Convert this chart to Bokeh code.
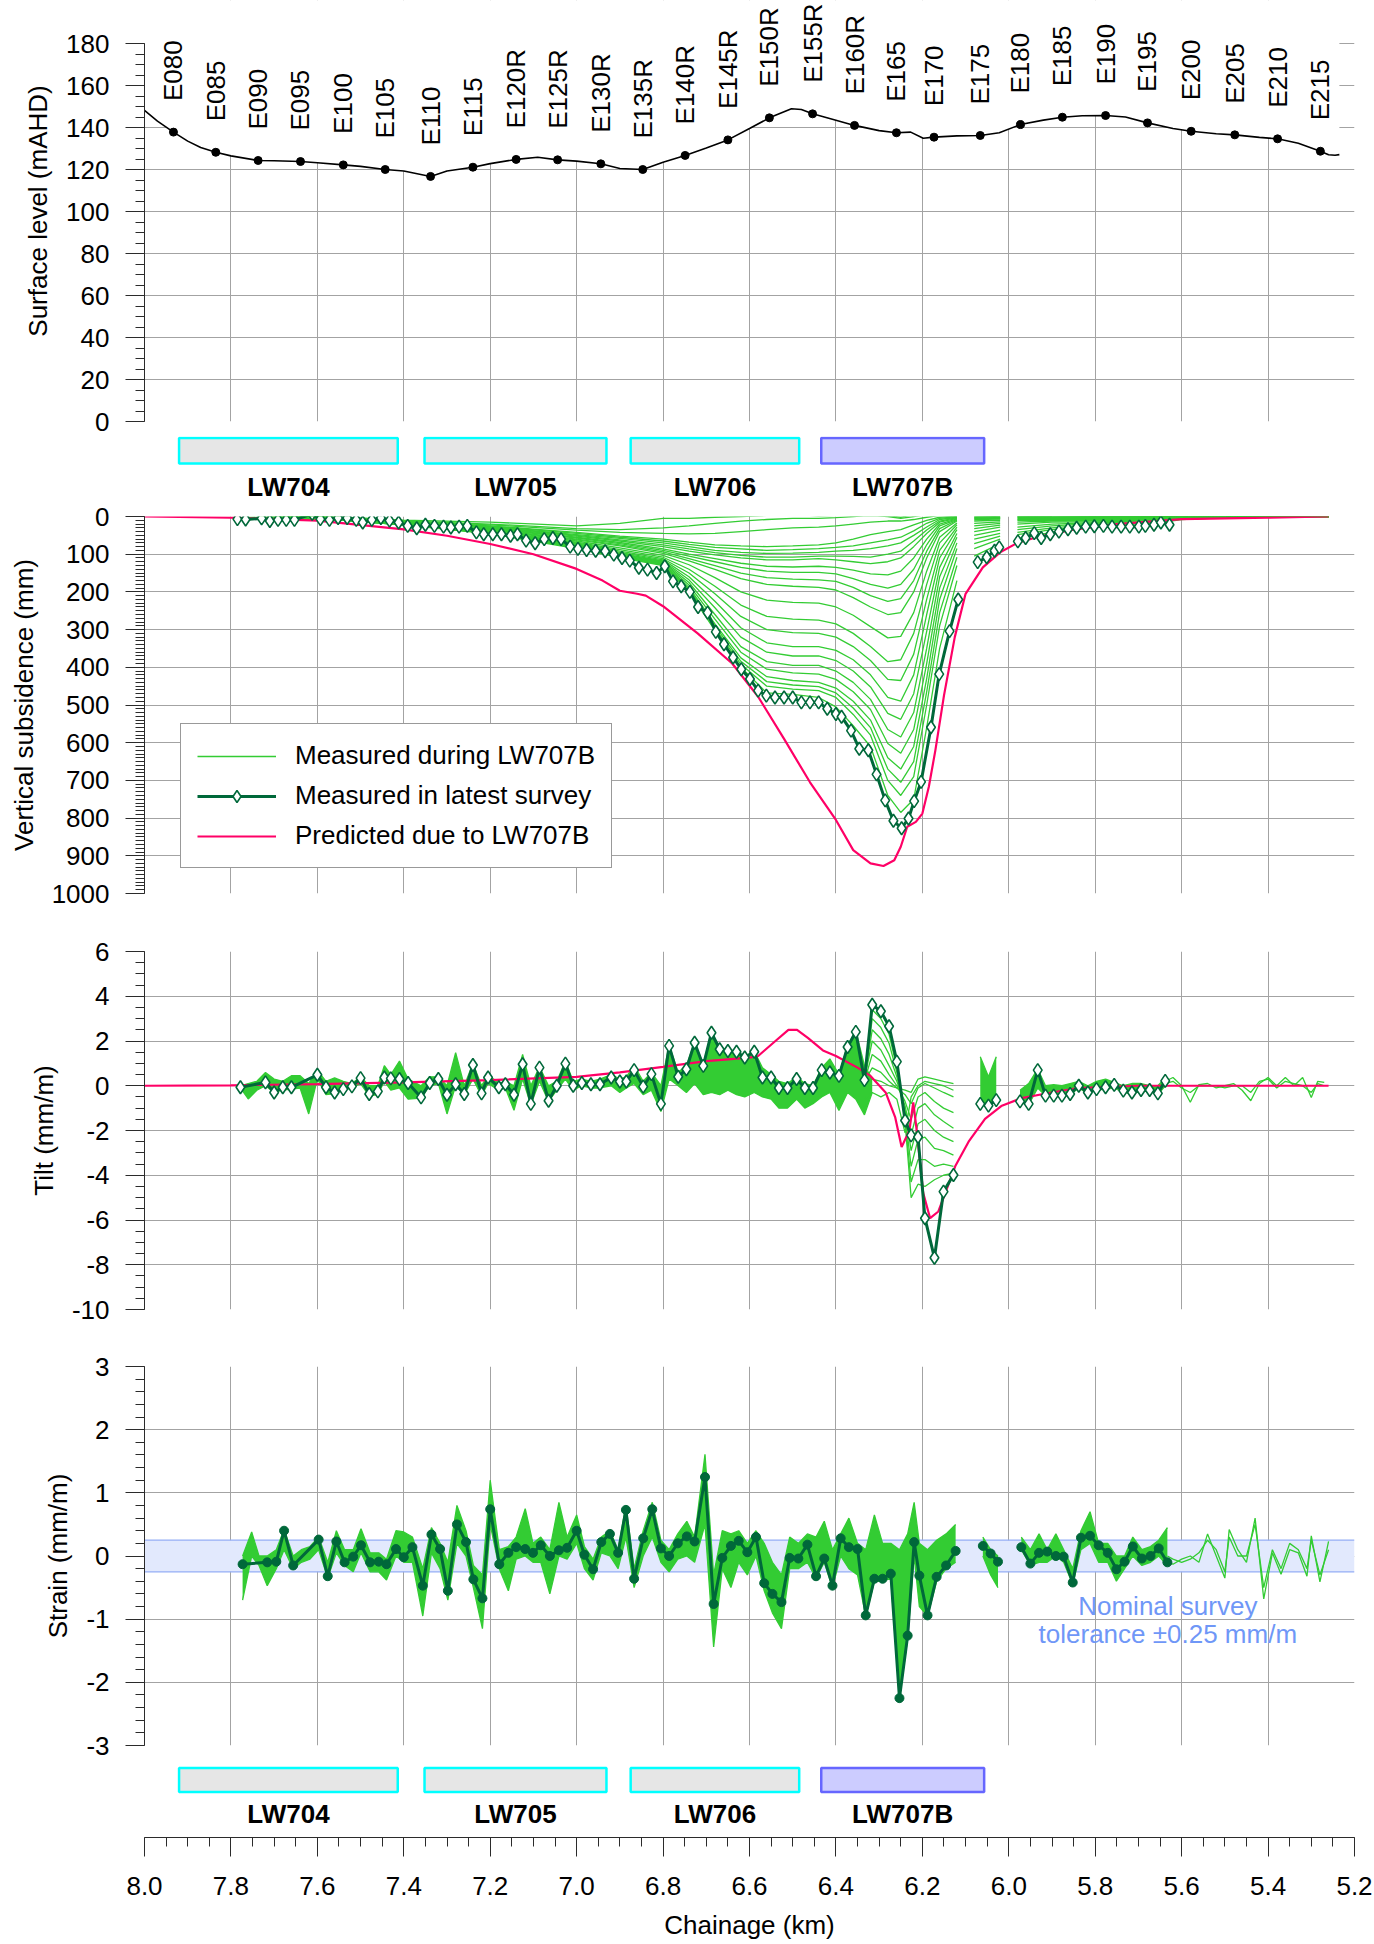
import math
from bokeh.plotting import figure
from bokeh.layouts import column
from bokeh.models import (Range1d, LinearAxis, SingleIntervalTicker, FixedTicker, Grid,
                          Legend, LegendItem, Label, LabelSet, ColumnDataSource,
                          PrintfTickFormatter)
from bokeh.embed import file_html
from bokeh.resources import INLINE
from bokeh.core.properties import value

N = float("nan")

# ---------------- axis ticks ----------------
X_TICKS = [8.0, 7.8, 7.6, 7.4, 7.2, 7.0, 6.8, 6.6, 6.4, 6.2, 6.0, 5.8, 5.6, 5.4, 5.2]

# ---------------- longwalls ----------------
LW_NAMES = ["LW704", "LW705", "LW706", "LW707B"]
LW_START = [7.920, 7.352, 6.875, 6.434]
LW_END = [7.414, 6.931, 6.485, 6.057]

# ---------------- surface level ----------------
SURF_LABELS = ["E080", "E085", "E090", "E095", "E100", "E105", "E110", "E115", "E120R", "E125R",
               "E130R", "E135R", "E140R", "E145R", "E150R", "E155R", "E160R", "E165", "E170", "E175",
               "E180", "E185", "E190", "E195", "E200", "E205", "E210", "E215"]
surf_dot_km = [7.933, 7.835, 7.737, 7.639, 7.540, 7.443, 7.338, 7.240, 7.140, 7.044,
               6.944, 6.847, 6.749, 6.650, 6.554, 6.454, 6.357, 6.260, 6.173, 6.066,
               5.973, 5.876, 5.776, 5.679, 5.578, 5.477, 5.378, 5.279]
surf_dot_val = [137.8, 128.2, 124.3, 123.8, 122.2, 120.0, 116.7, 121.1, 124.8, 124.6,
                122.7, 120.0, 126.7, 134.1, 144.6, 146.5, 141.0, 137.5, 135.4, 136.2,
                141.4, 144.9, 145.7, 142.2, 138.2, 136.5, 134.6, 128.7]
surf_line_km = [8.00, 7.97, 7.933, 7.90, 7.87, 7.835, 7.80, 7.737, 7.70, 7.639,
                7.60, 7.54, 7.50, 7.443, 7.40, 7.338, 7.30, 7.24, 7.20, 7.14,
                7.09, 7.044, 7.00, 6.944, 6.90, 6.847, 6.80, 6.749, 6.70, 6.65,
                6.60, 6.554, 6.52, 6.503, 6.48, 6.454, 6.40, 6.357, 6.30, 6.26,
                6.227, 6.198, 6.173, 6.12, 6.066, 6.022, 5.973, 5.92, 5.876, 5.83,
                5.776, 5.73, 5.679, 5.62, 5.578, 5.52, 5.477, 5.42, 5.378, 5.33,
                5.279, 5.26, 5.245, 5.235]
surf_line_val = [148.1, 143.0, 137.8, 133.5, 130.5, 128.2, 126.5, 124.3, 124.2, 123.8,
                 123.2, 122.2, 121.5, 120.0, 119.3, 116.7, 119.3, 121.1, 122.8, 124.8,
                 125.8, 124.6, 124.0, 122.7, 120.5, 120.0, 123.5, 126.7, 130.2, 134.1,
                 139.5, 144.6, 147.5, 148.9, 148.6, 146.5, 143.5, 141.0, 138.5, 137.5,
                 137.8, 134.9, 135.4, 136.0, 136.2, 137.5, 141.4, 143.5, 144.9, 145.6,
                 145.7, 145.0, 142.2, 139.5, 138.2, 137.0, 136.5, 135.3, 134.6, 132.5,
                 128.7, 127.0, 126.8, 127.1]

# ---------------- vertical subsidence (mm) ----------------
subs_km = [7.785, 7.766, 7.729, 7.710, 7.691, 7.672, 7.653, 7.612, 7.593, 7.572,
           7.552, 7.531, 7.510, 7.495, 7.474, 7.453, 7.433, 7.412, 7.391, 7.370,
           7.350, 7.329, 7.308, 7.291, 7.272, 7.253, 7.232, 7.215, 7.194, 7.174,
           7.153, 7.137, 7.117, 7.096, 7.075, 7.055, 7.036, 7.015, 6.997, 6.977,
           6.956, 6.934, 6.914, 6.895, 6.877, 6.856, 6.836, 6.815, 6.796, 6.777,
           6.758, 6.738, 6.719, 6.697, 6.678, 6.659, 6.638, 6.619, 6.599, 6.580,
           6.561, 6.541, 6.520, 6.500, 6.480, 6.460, 6.440, 6.420, 6.400, 6.387,
           6.365, 6.346, 6.325, 6.306, 6.286, 6.267, 6.248, 6.232, 6.219, 6.203,
           6.180, 6.161, 6.137, 6.117, 6.095, 6.072, 6.051, 6.033, 6.022, 6.000,
           5.979, 5.961, 5.941, 5.925, 5.904, 5.884, 5.863, 5.843, 5.822, 5.802,
           5.781, 5.761, 5.740, 5.720, 5.699, 5.684, 5.664, 5.648, 5.628]
subs_latest = [7, 8, 5, 12, 9, 9, 9, -7, 7, 9,
               4, 4, 9, 16, 9, 4, 11, 16, 25, 31,
               22, 25, 27, 29, 27, 25, 42, 47, 47, 47,
               51, 47, 64, 71, 60, 57, 60, 80, 86, 89,
               91, 92, 101, 110, 117, 136, 141, 150, 132, 172,
               185, 200, 240, 255, 306, 339, 374, 405, 431, 462,
               475, 480, 480, 480, 493, 493, 493, 510, 524, 531,
               568, 616, 620, 684, 753, 807, 827, 801, 755, 704,
               559, 418, 304, 220, N, 121, 108, 91, 82, N,
               66, 57, 44, 57, 47, 40, 34, 30, 27, 26,
               25, 27, 27, 27, 27, 25, 22, 16, 22]

subs_pred_km = [8.0, 7.8, 7.6, 7.4, 7.3, 7.2, 7.1, 7.0, 6.94, 6.9,
                6.86, 6.84, 6.8, 6.72, 6.64, 6.58, 6.52, 6.46, 6.40, 6.36,
                6.32, 6.29, 6.265, 6.25, 6.235, 6.215, 6.20, 6.185, 6.17, 6.15,
                6.125, 6.10, 6.06, 6.02, 5.98, 5.93, 5.85, 5.75, 5.6, 5.4, 5.26]
subs_pred = [0, 3, 11, 34, 51, 73, 100, 139, 170, 197,
             205, 210, 238, 310, 390, 478, 590, 705, 805, 885,
             920, 927, 912, 876, 823, 810, 788, 717, 621, 475,
             320, 205, 135, 95, 70, 53, 35, 20, 7, 3, 0]

# surveys measured during LW707B (earliest -> latest)
subs_survey_km = [7.78, 7.60, 7.40, 7.20, 7.00, 6.90, 6.80, 6.74, 6.68, 6.62,
                  6.56, 6.50, 6.44, 6.40, 6.36, 6.32, 6.28, 6.25, 6.22, 6.19,
                  6.16, 6.12, 6.10, 6.08, 6.02, 6.00, 5.98, 5.90, 5.80, 5.70,
                  5.60, 5.50, 5.40, 5.30, 5.26]
subs_s01 = [3, -2, 10, 15, 25, 18, 5, 5, 2, 0, -3, -5, -2, -3, -5, -5, -3, 2, -5, -8,
            -10, -8, N, -20, -15, N, -18, -10, -8, -6, -4, -6, -10, -5, -2]
subs_s02 = [4, 0, 12, 20, 32, 35, 30, 25, 18, 12, 8, 5, 5, 3, 0, -3, 0, 5, 0, -5,
            -8, -5, N, -12, -8, N, -12, -8, -5, -4, -2, -4, -6, -3, -1]
subs_s03 = [4, 1, 13, 22, 36, 42, 45, 46, 45, 40, 35, 30, 28, 25, 20, 15, 12, 12, 8, 2,
            -3, -4, N, -10, -7, N, -10, -6, -4, -3, -1, -3, -4, -2, 0]
subs_s04 = [5, 2, 14, 25, 42, 52, 60, 68, 75, 78, 80, 78, 75, 70, 60, 48, 40, 35, 22, 10,
            2, -2, N, -8, -5, N, -8, -5, -3, -2, 0, -2, -3, -1, 0]
subs_s05 = [5, 2, 14, 26, 45, 55, 65, 74, 82, 86, 90, 88, 85, 82, 78, 70, 62, 55, 38, 18,
            5, 0, N, -6, -4, N, -7, -4, -2, -1, 0, -1, -2, 0, 0]
subs_s06 = [5, 3, 15, 27, 48, 58, 70, 80, 90, 95, 98, 97, 95, 92, 90, 85, 78, 70, 50, 28,
            8, 2, N, -5, -3, N, -6, -4, -2, -1, 0, -1, -2, 0, 0]
subs_s07 = [5, 3, 15, 28, 50, 62, 75, 86, 96, 103, 108, 108, 105, 105, 106, 108, 100, 92, 65, 36,
            12, 3, N, -4, -2, N, -5, -3, -1, 0, 0, 0, -1, 0, 0]
subs_s08 = [5, 3, 16, 30, 52, 65, 80, 92, 102, 110, 115, 115, 112, 115, 120, 125, 120, 110, 80, 45,
            15, 5, N, -3, 0, N, -5, -2, 0, 0, 1, 0, -2, 0, 0]
subs_s09 = [5, 3, 16, 31, 55, 69, 86, 100, 112, 124, 132, 134, 132, 135, 142, 152, 155, 145, 110, 60,
            20, 6, N, -2, 1, N, -3, -1, 0, 0, 1, 0, -1, 0, 0]
subs_s10 = [6, 4, 17, 32, 57, 72, 90, 105, 120, 135, 145, 148, 148, 152, 165, 180, 190, 180, 140, 75,
            25, 8, N, 0, 3, N, -2, 0, 1, 1, 1, 0, -1, 0, 0]
subs_s11 = [6, 4, 18, 34, 60, 75, 94, 112, 130, 150, 162, 166, 168, 172, 188, 210, 225, 218, 170, 92,
            32, 10, N, 3, 4, N, -1, 1, 2, 2, 1, 0, 0, 0, 0]
subs_s12 = [6, 4, 18, 35, 62, 78, 98, 118, 140, 165, 180, 185, 188, 195, 215, 240, 260, 255, 200, 110,
            40, 12, N, 5, 5, N, 0, 2, 3, 3, 2, 1, 0, 1, 0]
subs_s13 = [6, 4, 18, 36, 65, 83, 103, 128, 162, 200, 222, 228, 230, 240, 262, 292, 322, 318, 255, 145,
            55, 17, N, 8, 7, N, 2, 4, 4, 4, 2, 1, 0, 1, 0]
subs_s14 = [6, 4, 19, 38, 68, 88, 108, 140, 185, 235, 265, 272, 275, 285, 310, 345, 385, 380, 310, 180,
            70, 22, N, 12, 10, N, 5, 6, 6, 5, 3, 1, 0, 1, 0]
subs_s15 = [6, 4, 19, 39, 70, 92, 112, 150, 205, 265, 300, 308, 310, 320, 345, 382, 432, 435, 365, 220,
            90, 28, N, 18, 14, N, 8, 8, 8, 6, 3, 1, 0, 1, 0]
subs_s16 = [7, 5, 20, 40, 72, 95, 115, 160, 225, 295, 335, 345, 345, 355, 380, 420, 480, 490, 420, 260,
            110, 35, N, 25, 18, N, 10, 10, 10, 8, 4, 2, 0, 1, 0]
subs_s17 = [7, 5, 20, 41, 74, 98, 118, 168, 242, 320, 360, 370, 370, 382, 410, 452, 522, 538, 470, 305,
            135, 45, N, 32, 23, N, 15, 12, 12, 10, 4, 2, 0, 1, 0]
subs_s18 = [7, 5, 21, 42, 76, 100, 120, 175, 260, 345, 385, 395, 395, 410, 440, 485, 565, 585, 520, 350,
            160, 55, N, 40, 28, N, 20, 15, 14, 12, 5, 2, 1, 1, 0]
subs_s19 = [7, 5, 21, 43, 78, 102, 122, 182, 272, 360, 405, 415, 418, 432, 465, 512, 602, 628, 565, 390,
            190, 70, N, 50, 36, N, 28, 20, 16, 14, 5, 2, 1, 1, 0]
subs_s20 = [7, 5, 22, 44, 80, 104, 124, 188, 285, 375, 425, 435, 440, 455, 490, 540, 640, 670, 610, 430,
            220, 85, N, 60, 45, N, 35, 25, 18, 16, 6, 3, 1, 1, 0]
subs_s21 = [7, 5, 22, 44, 82, 106, 126, 192, 290, 384, 438, 447, 451, 468, 508, 560, 670, 705, 650, 465,
            255, 108, N, 72, 52, N, 42, 30, 20, 18, 6, 3, 1, 1, 0]
subs_s22 = [7, 5, 22, 45, 83, 107, 128, 195, 296, 392, 450, 458, 462, 480, 525, 580, 700, 740, 690, 500,
            290, 130, N, 85, 60, N, 48, 35, 22, 20, 7, 3, 1, 1, 0]
subs_s23 = [7, 5, 22, 46, 85, 109, 130, 199, 302, 400, 468, 472, 480, 505, 555, 610, 740, 785, 750, 560,
            350, 170, N, 105, 72, N, 58, 42, 25, 24, 8, 3, 2, 1, 0]

# ---------------- tilt (mm/m) ----------------
tilt_km = [7.778, 7.72, 7.70, 7.68, 7.66, 7.60, 7.58, 7.56, 7.54, 7.52,
           7.50, 7.48, 7.46, 7.445, 7.43, 7.41, 7.39, 7.36, 7.34, 7.32,
           7.30, 7.28, 7.26, 7.24, 7.22, 7.205, 7.18, 7.165, 7.145, 7.125,
           7.106, 7.086, 7.065, 7.046, 7.026, 7.008, 6.988, 6.967, 6.946, 6.92,
           6.90, 6.885, 6.867, 6.846, 6.827, 6.805, 6.786, 6.765, 6.746, 6.727,
           6.707, 6.688, 6.669, 6.65, 6.63, 6.611, 6.589, 6.57, 6.55, 6.532,
           6.512, 6.491, 6.472, 6.453, 6.433, 6.414, 6.393, 6.373, 6.354, 6.334,
           6.316, 6.296, 6.277, 6.259, 6.24, 6.226, 6.21, 6.194, 6.172, 6.151,
           6.128, 6.10, 6.066, 6.047, 6.029, 6.00, 5.974, 5.954, 5.933, 5.915,
           5.896, 5.877, 5.858, 5.838, 5.817, 5.797, 5.776, 5.756, 5.735, 5.715,
           5.694, 5.674, 5.655, 5.638]
tilt_latest = [-0.07, 0.15, -0.3, -0.07, -0.07, 0.49, -0.07, -0.3, -0.15, -0.03,
               0.34, -0.37, -0.25, 0.37, 0.33, 0.3, 0.12, -0.52, 0.12, 0.3,
               -0.4, 0.07, -0.37, 0.93, -0.34, 0.37, -0.07, 0.07, -0.4, 0.96,
               -0.81, 0.81, -0.67, 0.0, 0.99, 0.0, 0.12, 0.07, 0.07, 0.37,
               0.19, 0.19, 0.7, -0.04, 0.52, -0.81, 1.78, 0.4, 0.74, 1.92,
               0.89, 2.37, 1.63, 1.55, 1.52, 1.26, 1.52, 0.37, 0.37, -0.1,
               -0.1, 0.3, -0.1, -0.1, 0.7, 0.59, 0.44, 1.73, 2.41, 0.25,
               3.62, 3.33, 2.66, 1.08, -1.55, -2.22, -2.29, -5.92, -7.69, -4.73,
               -3.99, N, -0.81, -0.89, -0.64, N, -0.7, -0.81, 0.7, -0.44,
               -0.44, -0.44, -0.37, 0.0, -0.3, -0.15, -0.07, 0.04, -0.22, -0.3,
               -0.19, -0.19, -0.34, 0.22]

# envelope of the earlier surveys (the trough 6.32-6.13 km is drawn as separate survey lines)
tilt_env_km = [7.778, 7.76, 7.74, 7.72, 7.70, 7.68, 7.66, 7.64, 7.62, 7.60,
               7.58, 7.56, 7.54, 7.52, 7.50, 7.48, 7.46, 7.445, 7.43, 7.41,
               7.39, 7.36, 7.34, 7.32, 7.30, 7.28, 7.26, 7.24, 7.22, 7.205,
               7.18, 7.165, 7.145, 7.125, 7.106, 7.086, 7.065, 7.046, 7.026, 7.008,
               6.988, 6.967, 6.946, 6.92, 6.90, 6.885, 6.867, 6.846, 6.827, 6.805,
               6.786, 6.765, 6.746, 6.727, 6.707, 6.688, 6.669, 6.65, 6.63, 6.611,
               6.589, 6.57, 6.55, 6.532, 6.512, 6.491, 6.472, 6.453, 6.433, 6.414,
               6.393, 6.373, 6.354, 6.334, 6.316, 6.10, 6.066, 6.047, 6.029, 6.00,
               5.974, 5.954, 5.933, 5.915, 5.896, 5.877, 5.858, 5.838, 5.817, 5.797,
               5.776, 5.756, 5.735, 5.715, 5.694, 5.674, 5.655, 5.638]
tilt_env_hi = [0.0, 0.1, 0.2, 0.59, 0.3, 0.2, 0.45, 0.45, 0.1, 0.7,
               0.2, 0.35, 0.2, 0.1, 0.4, 0.0, 0.0, 0.9, 0.5, 1.1,
               0.3, 0.0, 0.4, 0.4, 0.0, 1.48, 0.0, 1.0, 0.0, 0.5,
               0.1, 0.2, 0.0, 1.4, 0.0, 0.85, 0.0, 0.2, 1.1, 0.2,
               0.3, 0.2, 0.3, 0.5, 0.3, 0.4, 0.9, 0.2, 0.6, 0.0,
               1.8, 0.6, 0.9, 1.95, 0.95, 2.4, 1.65, 1.6, 1.55, 1.3,
               1.55, 0.8, 0.5, 0.2, 0.1, 0.4, 0.1, 0.0, 0.8, 1.2,
               0.5, 1.8, 2.45, 0.9, 0.3, N, 1.3, 0.4, 1.3, N,
               -0.2, 0.1, 0.75, 0.0, 0.05, 0.0, 0.1, 0.2, 0.0, 0.2,
               0.3, 0.15, 0.0, 0.1, 0.1, 0.0, 0.0, 0.35]
tilt_env_lo = [-0.1, -0.59, -0.2, 0.0, -0.3, -0.2, -0.15, -0.1, -1.26, 0.3,
               -0.4, -0.35, -0.2, -0.1, 0.1, -0.45, -0.4, 0.2, -0.2, -0.1,
               -0.6, -0.55, 0.0, 0.1, -1.26, 0.0, -0.4, 0.3, -0.45, 0.1,
               -0.2, -0.1, -1.1, 0.3, -0.85, 0.2, -0.7, -0.2, 0.3, -0.2,
               0.0, -0.1, -0.1, 0.0, -0.3, -0.1, 0.1, -0.4, -0.2, -1.15,
               0.3, 0.0, -0.3, 0.1, -0.4, -0.3, -0.4, -0.2, -0.4, -0.5,
               -0.3, -0.5, -0.6, -1.0, -1.0, -0.6, -1.0, -0.8, -0.5, -0.3,
               -1.1, -0.3, -0.6, -1.3, -0.3, N, -0.85, -0.9, -0.65, N,
               -0.75, -0.85, -0.1, -0.45, -0.45, -0.45, -0.4, -0.1, -0.35, -0.2,
               -0.15, -0.1, -0.3, -0.35, -0.25, -0.25, -0.4, 0.0]
tilt_trough_km = [6.334, 6.316, 6.296, 6.277, 6.259, 6.24, 6.226, 6.21, 6.194, 6.172, 6.151, 6.128]
tilt_tr_1 = [0.2, 0.3, 0.2, 0.0, -0.1, -0.2, -0.3, 0.3, 0.4, 0.3, 0.2, 0.1]
tilt_tr_2 = [0.2, 0.8, 0.6, 0.2, -0.1, -0.4, -0.8, -0.1, 0.1, -0.1, -0.3, -0.5]
tilt_tr_3 = [0.2, 1.4, 1.1, 0.5, 0.0, -0.7, -1.5, -0.5, -0.3, -0.7, -1.0, -1.2]
tilt_tr_4 = [0.3, 2.0, 1.6, 0.9, 0.2, -0.9, -2.2, -1.0, -0.8, -1.3, -1.6, -1.9]
tilt_tr_5 = [0.3, 2.5, 2.1, 1.4, 0.4, -1.1, -2.9, -1.7, -1.5, -2.0, -2.3, -2.5]
tilt_tr_6 = [0.3, 3.0, 2.6, 1.9, 0.6, -1.3, -3.6, -2.4, -2.3, -2.8, -2.9, -3.1]
tilt_tr_7 = [0.3, 3.4, 3.0, 2.3, 0.8, -1.5, -4.3, -3.3, -3.3, -3.6, -3.5, -3.6]
tilt_tr_8 = [0.25, 3.6, 3.3, 2.6, 1.0, -1.6, -5.0, -4.4, -4.5, -4.2, -4.0, -3.9]
tilt_tr_9 = [-0.6, -0.3, -0.5, -0.3, -0.6, -2.1, -0.5, 0.0, 0.2, 0.1, 0.0, -0.2]

tilt_east_km = [5.638, 5.62, 5.60, 5.58, 5.56, 5.54, 5.52, 5.50, 5.48, 5.46,
                5.44, 5.42, 5.40, 5.38, 5.36, 5.34, 5.32, 5.30, 5.285, 5.27]
tilt_east_a = [0.2, 0.37, 0.0, -0.74, 0.05, 0.1, -0.1, 0.0, 0.1, -0.2,
               -0.67, 0.1, 0.37, 0.0, 0.37, 0.0, 0.37, -0.52, 0.2, 0.15]
tilt_east_b = [0.1, 0.2, -0.1, -0.3, 0.0, 0.0, 0.0, -0.1, 0.0, 0.0,
               -0.3, 0.2, 0.3, -0.1, 0.2, 0.1, 0.0, -0.3, 0.1, 0.0]

tilt_pred_km = [8.0, 7.8, 7.6, 7.4, 7.2, 7.0, 6.9, 6.8, 6.7, 6.6,
                6.58, 6.54, 6.51, 6.49, 6.465, 6.43, 6.40, 6.35, 6.32, 6.285,
                6.263, 6.248, 6.23, 6.221, 6.213, 6.198, 6.182, 6.163, 6.147, 6.124,
                6.093, 6.055, 6.016, 5.97, 5.92, 5.84, 5.7, 5.5, 5.26]
tilt_pred = [0, 0.02, 0.07, 0.15, 0.25, 0.4, 0.6, 0.84, 1.1, 1.26,
             1.33, 2.0, 2.5, 2.5, 2.14, 1.58, 1.33, 0.81, 0.44, -0.3,
             -1.4, -2.74, -2.0, -0.74, -2.0, -4.8, -5.92, -5.62, -4.8, -3.6,
             -2.5, -1.48, -0.89, -0.55, -0.37, -0.1, 0, 0, 0]

# ---------------- strain (mm/m) ----------------
strain_km = [7.773, 7.716, 7.695, 7.677, 7.656, 7.597, 7.576, 7.556, 7.537, 7.517,
             7.499, 7.478, 7.458, 7.44, 7.418, 7.40, 7.38, 7.356, 7.336, 7.316,
             7.298, 7.277, 7.256, 7.239, 7.218, 7.20, 7.179, 7.158, 7.14, 7.119,
             7.101, 7.083, 7.062, 7.041, 7.022, 7.0, 6.982, 6.962, 6.943, 6.923,
             6.904, 6.886, 6.867, 6.846, 6.825, 6.805, 6.786, 6.766, 6.745, 6.727,
             6.703, 6.683, 6.663, 6.643, 6.625, 6.605, 6.585, 6.566, 6.547, 6.526,
             6.507, 6.487, 6.466, 6.446, 6.427, 6.408, 6.389, 6.37, 6.35, 6.331,
             6.311, 6.292, 6.273, 6.253, 6.234, 6.219, 6.207, 6.188, 6.167, 6.145,
             6.123, 6.09, 6.06, 6.042, 6.025, 6.0, 5.971, 5.95, 5.93, 5.911,
             5.891, 5.873, 5.852, 5.833, 5.812, 5.792, 5.771, 5.751, 5.732, 5.713,
             5.692, 5.672, 5.653, 5.633]
strain_latest = [-0.13, -0.10, -0.09, 0.40, -0.15, 0.26, -0.32, 0.23, -0.10, -0.01,
                 0.17, -0.10, -0.09, -0.13, 0.11, -0.02, 0.14, -0.47, 0.34, 0.11,
                 -0.55, 0.50, 0.22, -0.37, -0.67, 0.74, -0.13, 0.05, 0.14, 0.11,
                 0.05, 0.17, 0.0, 0.09, 0.13, 0.40, 0.02, -0.21, 0.22, 0.35,
                 0.05, 0.73, -0.36, 0.28, 0.74, 0.12, 0.0, 0.20, 0.31, 0.23,
                 1.25, -0.76, -0.03, 0.16, 0.24, 0.06, 0.30, -0.43, -0.60, -0.73,
                 -0.03, -0.04, 0.18, -0.32, -0.04, -0.47, 0.28, 0.14, 0.11, -0.94,
                 -0.36, -0.36, -0.28, -2.25, -1.26, 0.22, -0.31, -0.94, -0.33, -0.15,
                 0.08, N, 0.16, 0.04, -0.09, N, 0.14, -0.12, 0.05, 0.07,
                 0.0, -0.01, -0.42, 0.29, 0.32, 0.17, 0.05, -0.21, -0.09, 0.15,
                 -0.04, 0.0, 0.12, -0.10]

strain_env_km = [7.773, 7.752, 7.735, 7.716, 7.695, 7.677, 7.656, 7.637, 7.617, 7.597,
                 7.576, 7.556, 7.537, 7.517, 7.499, 7.478, 7.458, 7.44, 7.418, 7.40,
                 7.38, 7.356, 7.336, 7.316, 7.298, 7.277, 7.256, 7.239, 7.218, 7.20,
                 7.179, 7.158, 7.14, 7.119, 7.101, 7.083, 7.062, 7.041, 7.022, 7.0,
                 6.982, 6.962, 6.943, 6.923, 6.904, 6.886, 6.867, 6.846, 6.825, 6.805,
                 6.786, 6.766, 6.745, 6.727, 6.703, 6.683, 6.663, 6.643, 6.625, 6.605,
                 6.585, 6.566, 6.547, 6.526, 6.507, 6.487, 6.466, 6.446, 6.427, 6.408,
                 6.389, 6.37, 6.35, 6.331, 6.311, 6.292, 6.273, 6.253, 6.234, 6.219,
                 6.207, 6.188, 6.167, 6.145, 6.123, 6.09, 6.06, 6.042, 6.025, 6.0,
                 5.971, 5.95, 5.93, 5.911, 5.891, 5.873, 5.852, 5.833, 5.812, 5.792,
                 5.771, 5.751, 5.732, 5.713, 5.692, 5.672, 5.653, 5.633]
strain_env_hi = [0.0, 0.38, 0.0, 0.0, 0.1, 0.42, 0.0, 0.1, 0.15, 0.3,
                 -0.1, 0.4, 0.1, 0.1, 0.43, 0.05, 0.05, -0.05, 0.4, 0.38,
                 0.3, -0.2, 0.45, 0.2, -0.1, 0.8, 0.4, -0.15, -0.3, 1.2,
                 0.1, 0.15, 0.3, 0.75, 0.2, 0.3, 0.1, 0.85, 0.3, 0.65,
                 0.15, -0.05, 0.3, 0.4, 0.1, 0.8, -0.2, 0.4, 0.85, 0.25,
                 0.1, 0.35, 0.55, 0.3, 1.61, -0.3, 0.4, 0.35, 0.4, 0.2,
                 0.4, 0.2, -0.1, -0.3, 0.3, 0.2, 0.35, 0.3, 0.55, 0.1,
                 0.35, 0.6, 0.2, 0.1, 0.65, 0.2, 0.2, 0.1, 0.35, 0.85,
                 0.2, 0.1, 0.25, 0.35, 0.5, N, 0.3, 0.1, 0.0, N,
                 0.3, 0.1, 0.35, 0.1, 0.35, 0.1, -0.2, 0.4, 0.7, 0.2,
                 0.2, 0.0, 0.0, 0.3, 0.1, 0.15, 0.25, 0.45]
strain_env_lo = [-0.7, 0.0, -0.15, -0.47, -0.2, 0.1, -0.2, -0.1, -0.05, 0.1,
                 -0.35, 0.05, -0.15, -0.25, 0.05, -0.25, -0.25, -0.38, 0.0, -0.1,
                 -0.1, -0.95, 0.05, -0.2, -0.7, 0.2, 0.0, -0.5, -1.15, 0.5,
                 -0.2, -0.55, -0.05, 0.0, -0.1, -0.1, -0.6, 0.0, -0.05, 0.2,
                 -0.2, -0.38, 0.05, 0.0, -0.2, 0.3, -0.5, 0.0, 0.3, -0.1,
                 -0.25, -0.05, 0.0, -0.1, 0.5, -1.44, -0.2, -0.5, -0.1, -0.3,
                 0.0, -0.55, -0.9, -1.15, -0.2, -0.2, -0.1, -0.35, -0.1, -0.5,
                 0.0, -0.2, -0.3, -0.95, -0.4, -0.4, -0.35, -2.25, -1.3, 0.0,
                 -0.8, -0.95, -0.4, -0.2, -0.1, N, 0.0, -0.3, -0.5, N,
                 0.1, -0.15, -0.1, -0.1, 0.0, -0.1, -0.45, 0.1, 0.2, -0.1,
                 -0.1, -0.4, -0.2, 0.0, -0.15, -0.1, 0.0, -0.15]
strain_east_km = [5.633, 5.62, 5.60, 5.58, 5.56, 5.54, 5.52, 5.50, 5.49, 5.47,
                  5.45, 5.43, 5.41, 5.39, 5.37, 5.35, 5.33, 5.31, 5.30, 5.28, 5.26]
strain_east_a = [-0.1, -0.13, -0.05, 0.0, -0.1, 0.35, 0.0, -0.35, 0.42, 0.1,
                 -0.1, 0.6, -0.68, 0.05, -0.29, 0.1, 0.05, -0.32, 0.32, -0.41, 0.23]
strain_east_b = [0.0, -0.05, -0.1, -0.05, 0.05, 0.25, 0.1, -0.25, 0.3, 0.0,
                 0.0, 0.5, -0.5, 0.1, -0.2, 0.2, 0.1, -0.2, 0.25, -0.3, 0.1]

TOL_KM = [8.0, 5.2]
TOL = 0.25

# ---------------- styles ----------------
FONT = "Liberation Sans"
FS = "26px"
GREEN = "#33cc33"
DARK = "#00683a"
PINK = "#ff0066"
GRIDC = "#a3a3a3"
AXISC = "#2b2b2b"
W, BL, BR = 1374, 144, 20
SURF_MAX = 180
SURF_TOP = SURF_MAX + 43 / 2.1   # extra room above the axis for the rotated mark labels


def new_fig(height, y_range, top=0, bottom=0, x_axis=None):
    p = figure(width=W, height=height, x_range=Range1d(8.0, 5.2), y_range=y_range,
               output_backend="svg", toolbar_location=None, tools="",
               x_axis_location=x_axis, y_axis_location=None,
               min_border_left=BL, min_border_right=BR,
               min_border_top=top, min_border_bottom=bottom)
    p.outline_line_color = None
    p.grid.visible = False
    return p


def add_grids(p, y_interval, y_bounds="auto"):
    p.add_layout(Grid(dimension=0, ticker=FixedTicker(ticks=X_TICKS),
                      grid_line_color=GRIDC, grid_line_width=1))
    p.add_layout(Grid(dimension=1, ticker=SingleIntervalTicker(interval=y_interval),
                      grid_line_color=GRIDC, grid_line_width=1, bounds=y_bounds))


def add_yaxis(p, interval, minor, label, bounds="auto"):
    ax = LinearAxis(ticker=SingleIntervalTicker(interval=interval, num_minor_ticks=minor),
                    axis_label=label, formatter=PrintfTickFormatter(format="%d"), bounds=bounds)
    ax.axis_label_text_font = FONT
    ax.axis_label_text_font_size = FS
    ax.axis_label_text_font_style = "normal"
    ax.axis_label_text_color = "black"
    ax.major_label_text_font = FONT
    ax.major_label_text_font_size = FS
    ax.major_label_text_color = "black"
    ax.axis_line_color = AXISC
    ax.major_tick_line_color = AXISC
    ax.minor_tick_line_color = AXISC
    ax.major_tick_out = 19
    ax.major_tick_in = 0
    ax.minor_tick_out = 9
    ax.minor_tick_in = 0
    ax.major_label_standoff = 16
    ax.axis_label_standoff = 10
    p.add_layout(ax, "left")


def split_nan(xs, *cols):
    segs, cur = [], None
    for i, x in enumerate(xs):
        vals = [c[i] for c in cols]
        if any(math.isnan(v) for v in vals):
            if cur and len(cur[0]) > 1:
                segs.append(cur)
            cur = None
            continue
        if cur is None:
            cur = [[] for _ in range(len(cols) + 1)]
        cur[0].append(x)
        for j, v in enumerate(vals):
            cur[j + 1].append(v)
    if cur and len(cur[0]) > 1:
        segs.append(cur)
    return segs


def green_band(p, xs, lo, hi):
    for seg in split_nan(xs, lo, hi):
        p.varea(x=seg[0], y1=seg[1], y2=seg[2], fill_color=GREEN, fill_alpha=1.0)
    p.line(xs, hi, line_color=GREEN, line_width=1.3)
    p.line(xs, lo, line_color=GREEN, line_width=1.3)


def lw_band(p, label_y, box_top, box_bottom):
    fills = ["#e6e6e6", "#e6e6e6", "#e6e6e6", "#ccccff"]
    lines = ["#00ffff", "#00ffff", "#00ffff", "#6666ff"]
    p.quad(left=LW_START, right=LW_END, top=[box_top] * 4, bottom=[box_bottom] * 4,
           fill_color=fills, line_color=lines, line_width=2.5)
    mids = [(a + b) / 2 for a, b in zip(LW_START, LW_END)]
    p.text(x=mids, y=[label_y] * 4, text=LW_NAMES, text_align="center",
           text_baseline="middle", text_font=value(FONT), text_font_size=FS,
           text_font_style="bold", text_color="black")


# ================= A: surface level =================
pA = new_fig(436, Range1d(0, SURF_TOP), top=0, bottom=15)
add_grids(pA, 20, (0, SURF_MAX))
add_yaxis(pA, 20, 4, "Surface level (mAHD)", (0, SURF_MAX))
pA.varea(x=surf_line_km, y1=surf_line_val, y2=[SURF_TOP] * len(surf_line_km),
         fill_color="white", fill_alpha=1.0)
pA.line(surf_line_km, surf_line_val, line_color="black", line_width=1.6)
pA.scatter(surf_dot_km, surf_dot_val, size=8, color="black")
lab_src = ColumnDataSource(dict(x=surf_dot_km, y=surf_dot_val, t=SURF_LABELS))
pA.add_layout(LabelSet(x="x", y="y", text="t", source=lab_src, angle=math.pi / 2,
                       text_align="left", text_baseline="middle", y_offset=31,
                       text_font=value(FONT), text_font_size=FS, text_color="black"))

# ================= B: longwall band (top) =================
pB = new_fig(65, Range1d(65, 0))
lw_band(pB, 50, 1.5, 27)

# ================= C: subsidence =================
pC = new_fig(435, Range1d(1000, 0), top=15, bottom=43)
add_grids(pC, 100)
add_yaxis(pC, 100, 10, "Vertical subsidence (mm)")
survey_lines = [subs_s01, subs_s02, subs_s03, subs_s04, subs_s05, subs_s06, subs_s07,
                subs_s08, subs_s09, subs_s10, subs_s11, subs_s12, subs_s13, subs_s14,
                subs_s15, subs_s16, subs_s17, subs_s18, subs_s19, subs_s20, subs_s21,
                subs_s22, subs_s23]
green_r = None
for s in survey_lines:
    r = pC.line(subs_survey_km, s, line_color=GREEN, line_width=1.3)
    if green_r is None:
        green_r = r
pred_r = pC.line(subs_pred_km, subs_pred, line_color=PINK, line_width=2.2)
lat_l = pC.line(subs_km, subs_latest, line_color=DARK, line_width=3)
lat_s = pC.scatter(subs_km, subs_latest, marker="diamond", size=13, line_color=DARK,
                   line_width=1.6, fill_color="white")
leg = Legend(items=[LegendItem(label="Measured during LW707B", renderers=[green_r]),
                    LegendItem(label="Measured in latest survey", renderers=[lat_l, lat_s]),
                    LegendItem(label="Predicted due to LW707B", renderers=[pred_r])],
             location=(36, 25), margin=0, padding=16, spacing=9,
             glyph_width=79, glyph_height=30, label_standoff=19,
             label_text_font=FONT, label_text_font_size=FS, label_text_color="black",
             border_line_color="#333333", border_line_width=1,
             background_fill_color="white", background_fill_alpha=1.0)
pC.add_layout(leg)

# ================= D: tilt =================
pD = new_fig(415, Range1d(-10, 6), top=15, bottom=42)
add_grids(pD, 2)
add_yaxis(pD, 2, 4, "Tilt (mm/m)")
green_band(pD, tilt_env_km, tilt_env_lo, tilt_env_hi)
for tr in [tilt_tr_1, tilt_tr_2, tilt_tr_3, tilt_tr_4, tilt_tr_5, tilt_tr_6,
           tilt_tr_7, tilt_tr_8, tilt_tr_9]:
    pD.line(tilt_trough_km, tr, line_color=GREEN, line_width=1.3)
pD.line(tilt_east_km, tilt_east_a, line_color=GREEN, line_width=1.3)
pD.line(tilt_east_km, tilt_east_b, line_color=GREEN, line_width=1.3)
pD.line(tilt_pred_km, tilt_pred, line_color=PINK, line_width=2.2)
pD.line(tilt_km, tilt_latest, line_color=DARK, line_width=3)
pD.scatter(tilt_km, tilt_latest, marker="diamond", size=13, line_color=DARK,
           line_width=1.6, fill_color="white")

# ================= E: strain =================
pE = new_fig(409, Range1d(-3, 3), top=15, bottom=15)
add_grids(pE, 1)
add_yaxis(pE, 1, 5, "Strain (mm/m)")
pE.varea(x=TOL_KM, y1=[-TOL, -TOL], y2=[TOL, TOL], fill_color="#e2e9fd", fill_alpha=1.0)
pE.line(TOL_KM, [TOL, TOL], line_color="#93adf5", line_width=1.2)
pE.line(TOL_KM, [-TOL, -TOL], line_color="#93adf5", line_width=1.2)
green_band(pE, strain_env_km, strain_env_lo, strain_env_hi)
pE.line(strain_east_km, strain_east_a, line_color=GREEN, line_width=1.3)
pE.line(strain_east_km, strain_east_b, line_color=GREEN, line_width=1.3)
pE.line(strain_km, strain_latest, line_color=DARK, line_width=3)
pE.scatter(strain_km, strain_latest, marker="circle", size=9, color=DARK)
pE.add_layout(Label(x=5.632, y=-0.79, text="Nominal survey", text_align="center",
                    text_baseline="middle", text_font=FONT, text_font_size=FS,
                    text_color="#6f97f7"))
pE.add_layout(Label(x=5.632, y=-1.24, text="tolerance \u00b10.25 mm/m", text_align="center",
                    text_baseline="middle", text_font=FONT, text_font_size=FS,
                    text_color="#6f97f7"))

# ================= F: longwall band (bottom) + chainage axis =================
pF = new_fig(182, Range1d(83, 0), top=0, bottom=99, x_axis="below")
lw_band(pF, 58, 8, 34)
xa = pF.xaxis[0]
xa.ticker = FixedTicker(ticks=X_TICKS, minor_ticks=[round(5.2 + 0.05 * i, 2) for i in range(57)])
xa.formatter = PrintfTickFormatter(format="%.1f")
xa.axis_label = "Chainage (km)"
xa.axis_label_text_font = FONT
xa.axis_label_text_font_size = FS
xa.axis_label_text_font_style = "normal"
xa.axis_label_text_color = "black"
xa.major_label_text_font = FONT
xa.major_label_text_font_size = FS
xa.major_label_text_color = "black"
xa.axis_line_color = AXISC
xa.major_tick_line_color = AXISC
xa.minor_tick_line_color = AXISC
xa.major_tick_out = 19
xa.major_tick_in = 0
xa.minor_tick_out = 9
xa.minor_tick_in = 0
xa.major_label_standoff = 20
xa.axis_label_standoff = 12

layout = column(pA, pB, pC, pD, pE, pF)
open("out.html", "w").write(file_html(layout, INLINE))
